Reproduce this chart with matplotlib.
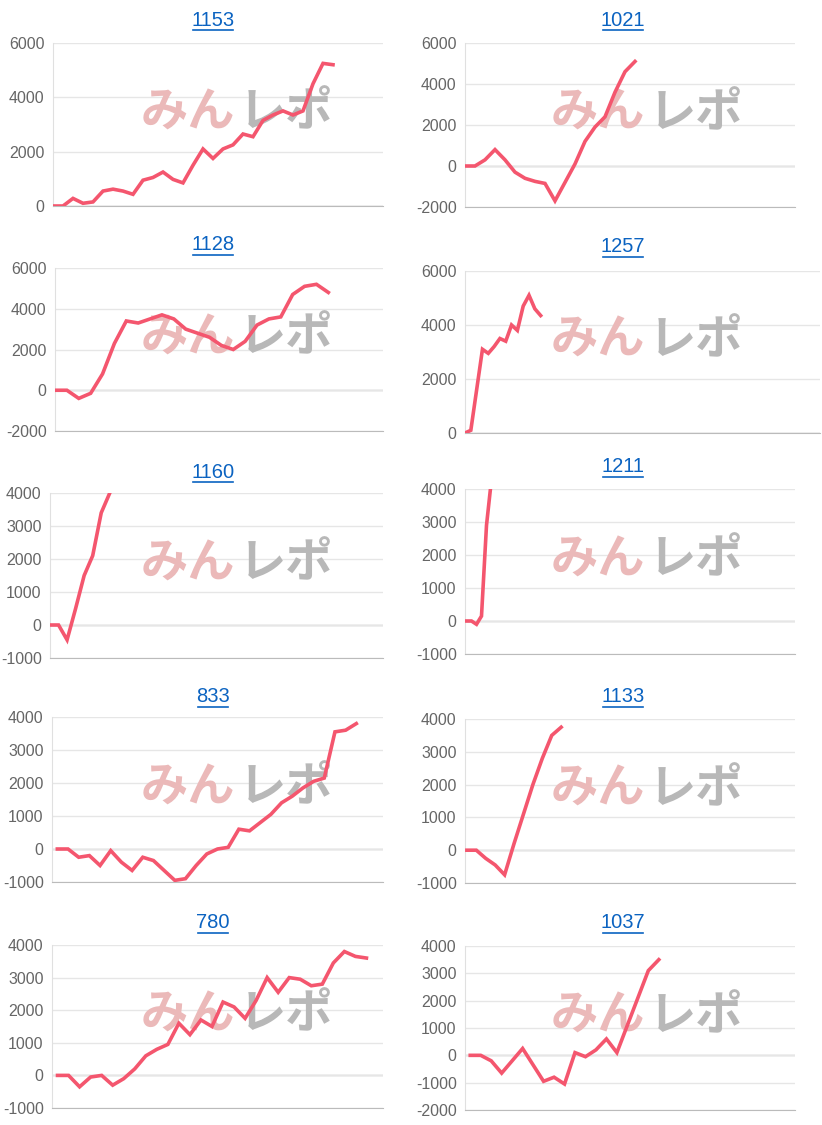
import matplotlib
matplotlib.use("Agg")
import matplotlib.pyplot as plt
from matplotlib.lines import Line2D

titles = ["1153", "1021", "1128", "1257", "1160", "1211", "833", "1133", "780", "1037"]
s1153 = [0, 0, 280, 100, 150, 550, 620, 550, 430, 950, 1050, 1250, 980, 850, 1500, 2100, 1750,
         2100, 2250, 2650, 2550, 3150, 3350, 3500, 3350, 3500, 4500, 5250, 5200]
s1021 = [0, 0, 300, 800, 300, -300, -600, -750, -850, -1700, -800, 100, 1200, 1900, 2400, 3600, 4600, 5100]
s1128 = [0, 0, -400, -150, 800, 2300, 3400, 3300, 3500, 3700, 3500, 3000, 2800, 2600, 2200, 2000,
         2400, 3200, 3500, 3600, 4700, 5100, 5200, 4800]
s1257 = [0, 100, 1600, 3100, 2950, 3200, 3500, 3400, 4000, 3800, 4700, 5100, 4600, 4350]
s1160 = [0, 0, -450, 500, 1500, 2100, 3400, 4000, 4600]
s1211 = [0, 0, -100, 150, 2900, 4300]
s833 = [0, 0, -250, -200, -500, -50, -400, -650, -250, -350, -650, -950, -900, -500, -150, 0, 50,
        600, 550, 800, 1050, 1400, 1600, 1850, 2050, 2150, 3550, 3600, 3800]
s1133 = [0, 0, -250, -450, -750, 200, 1100, 2000, 2800, 3500, 3750]
s780 = [0, 0, -350, -50, 0, -300, -100, 200, 600, 800, 950, 1600, 1250, 1700, 1500, 2250, 2100,
        1750, 2300, 3000, 2550, 3000, 2950, 2750, 2800, 3450, 3800, 3650, 3600]
s1037 = [0, 0, -200, -650, -200, 250, -350, -950, -800, -1050, 100, -50, 200, 600, 100, 1100, 2100, 3100, 3500]
series = [s1153, s1021, s1128, s1257, s1160, s1211, s833, s1133, s780, s1037]
yticks = [[0, 2000, 4000, 6000], [-2000, 0, 2000, 4000, 6000], [-2000, 0, 2000, 4000, 6000],
          [0, 2000, 4000, 6000], [-1000, 0, 1000, 2000, 3000, 4000], [-1000, 0, 1000, 2000, 3000, 4000],
          [-1000, 0, 1000, 2000, 3000, 4000], [-1000, 0, 1000, 2000, 3000, 4000],
          [-1000, 0, 1000, 2000, 3000, 4000], [-2000, -1000, 0, 1000, 2000, 3000, 4000]]

W, H = 822, 1125
boxes = [(53, 383, 43, 206, 33), (465, 795, 43, 207, 33), (55, 383, 268, 431, 27.6), (465, 820, 271, 433, 61),
         (50, 383, 493, 658, 39), (465, 795, 489, 654, 66), (52, 383, 717, 882, 31), (465, 795, 719, 883, 35),
         (52, 383, 945, 1108, 30), (465, 795, 946, 1110, 31.5)]
starts = [0, 0, 0, 0, 0, 0.3, 0.5, 0.2, 0.5, 0.5]
title_y = [20, 20, 245, 247, 472, 467, 697, 697, 923, 923]

plt.rcParams['font.family'] = ['Liberation Sans', 'DejaVu Sans']
fig = plt.figure(figsize=(W / 100, H / 100), dpi=100)
red = '#f4566e'
for i, (l, r, t, b, n) in enumerate(boxes):
    ax = fig.add_axes([l / W, 1 - b / H, (r - l) / W, (b - t) / H])
    yt = yticks[i]
    ax.set_ylim(yt[0], yt[-1])
    ax.set_xlim(0, n)
    ax.set_yticks(yt)
    ax.set_yticklabels([str(v) for v in yt], color='#666666', fontsize=11.5)
    ax.set_xticks([])
    ax.tick_params(axis='y', length=0, pad=6)
    ax.grid(axis='y', color='#e6e6e6', lw=1)
    ax.axhline(0, color='#bbbbbb', lw=1, zorder=1)
    for s in ['top', 'right']:
        ax.spines[s].set_visible(False)
    ax.spines['left'].set_color('#e0e0e0')
    ax.spines['bottom'].set_color('#bbbbbb')
    xs = [starts[i] + k for k in range(len(series[i]))]
    ax.plot(xs, series[i], color=red, lw=2.6, zorder=5, solid_joinstyle='miter')
    cx = 235 if l < 200 else 645
    cy = (t + b) / 2 - 12
    ax.text(cx / W, 1 - cy / H, 'みん', transform=fig.transFigure, ha='right', va='center',
            fontsize=34, fontweight='bold', color='#ebb9b9', family='Noto Sans CJK JP', zorder=2)
    ax.text(cx / W + 0.004, 1 - cy / H, 'レポ', transform=fig.transFigure, ha='left', va='center',
            fontsize=34, fontweight='bold', color='#b8b8b8', family='Noto Sans CJK JP', zorder=2)
    tx = 213 if l < 200 else 623
    fig.text(tx / W, 1 - title_y[i] / H, titles[i], ha='center', va='center', fontsize=14.5, color='#0b63c1')
    hw = 5.1 * len(titles[i])
    fig.add_artist(Line2D([(tx - hw) / W, (tx + hw) / W], [1 - (title_y[i] + 10) / H] * 2,
                          color='#0b63c1', lw=1.2))

fig.savefig('out.png', dpi=100)
